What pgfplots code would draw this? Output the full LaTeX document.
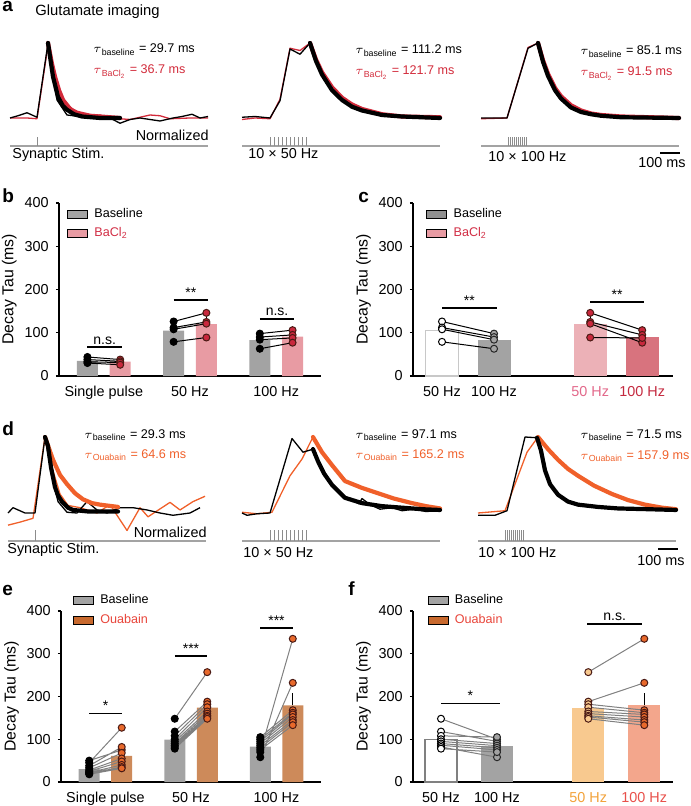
\documentclass[border=0pt]{standalone}
\usepackage{fontspec}
\setmainfont{Liberation Sans}
\usepackage{pgfplots}
\pgfplotsset{compat=1.18}

\definecolor{basegray}{HTML}{A3A3A3}
\definecolor{leggray}{HTML}{8F8F8F}
\definecolor{opengray}{HTML}{C8C8C8}
\definecolor{bacltxt}{HTML}{D12E45}
\definecolor{baclbar}{HTML}{E89BA3}
\definecolor{bacldot}{HTML}{C9283D}
\definecolor{bacllight}{HTML}{ECB1B7}
\definecolor{bacldark}{HTML}{D8737E}
\definecolor{dotedge}{HTML}{4A1A14}
\definecolor{cfifty}{HTML}{E2688A}
\definecolor{chundred}{HTML}{C42A40}
\definecolor{ouabbar}{HTML}{CD8A5A}
\definecolor{ouableg}{HTML}{C8692E}
\definecolor{ouabtxt}{HTML}{E8453A}
\definecolor{ouabdot}{HTML}{E8692B}
\definecolor{ouablight}{HTML}{F8C98F}
\definecolor{ouabsalmon}{HTML}{F3A68C}
\definecolor{ffifty}{HTML}{F2A23A}
\definecolor{fhundred}{HTML}{E8504A}
\definecolor{tracered}{HTML}{D22A3A}
\definecolor{traceorange}{HTML}{F0602A}
\definecolor{stimgray}{HTML}{8C8C8C}
\definecolor{pairgray}{HTML}{808080}

\newcommand{\tickfont}{\fontsize{7.2}{8.6}\selectfont}
\newcommand{\labfont}{\fontsize{7.9}{9.4}\selectfont}
\newcommand{\legfont}{\fontsize{6.3}{7.5}\selectfont}
\newcommand{\taufont}{\fontsize{6.3}{7.5}\selectfont}
\newcommand{\sigfont}{\fontsize{7}{8.4}\selectfont}
\newcommand{\letfont}{\fontsize{9.5}{11}\selectfont\bfseries}

\tikzset{sig/.style={line width=0.8pt},
  tau/.style={anchor=base west, font=\taufont, inner sep=0pt}}

\pgfplotsset{
  trace/.style={scale only axis, anchor=north west, width=99pt, xmin=0, xmax=990,
    ymin=-0.55, ymax=1.1, hide axis, clip=false},
  raw/.style={no markers, line width=0.65pt, line join=round},
  fit/.style={no markers, line width=2.1pt, line join=round, line cap=round},
  stimline/.style={no markers, line width=0.6pt, color=stimgray!80},
  stimtick/.style={no markers, line width=0.5pt, color=stimgray, unbounded coords=jump},
  decay/.style={scale only axis, anchor=south west, clip=false,
    axis lines=left, axis line style={line width=0.9pt, -},
    ymin=0, ymax=400, ytick={0,100,200,300,400},
    tick align=outside, major tick length=1.6pt,
    ytick style={line width=0.7pt, black}, xtick style={draw=none},
    ticklabel style={font=\tickfont},
    /pgf/number format/assume math mode=true,
    ylabel={Decay Tau (ms)},
    ylabel style={font=\labfont, at={(axis description cs:-0.19,0.5)}, anchor=center},
    legend style={draw=none, fill=none, anchor=north west, font=\legfont,
      inner sep=0pt, row sep=1pt, column sep=1.8pt, nodes={inner sep=1.4pt}},
    legend cell align=left,
    legend image code/.code={\fill[##1] (0pt,-2pt) rectangle (10pt,2pt);},
  },
  bars/.style={ybar, bar shift=0pt, draw=none, forget plot,
    error bars/y dir=plus, error bars/y explicit,
    error bars/error bar style={line width=0.6pt, black},
    error bars/error mark options={line width=0.6pt, black, mark size=2.2pt}},
  pairs/.style={forget plot, line width=0.5pt, unbounded coords=jump, scatter,
    scatter src=explicit symbolic, mark size=1.75pt,
    scatter/classes={
      k={mark=*, draw=black, fill=black},
      r={mark=*, draw=dotedge, fill=bacldot},
      o={mark=*, draw=black, fill=white},
      g={mark=*, draw=black!85, fill=basegray},
      u={mark=*, draw=dotedge, fill=ouabdot},
      l={mark=*, draw=dotedge, fill=ouablight}}},
}

\begin{document}
\begin{tikzpicture}[x=0.5pt, y=-0.5pt]
\useasboundingbox (0,0) rectangle (690,806);

% ---------------- panel a ----------------
\node[anchor=base west, font=\letfont, inner sep=0pt] at (2,12) {a};
\node[anchor=base west, font=\fontsize{7.4}{9}\selectfont, inner sep=0pt] at (35,16) {Glutamate imaging};

\begin{axis}[trace, height=61.875pt, at={(5pt,-17.75pt)}]
\addplot[stimline] coordinates {(0,-0.373) (990,-0.373)};
\addplot[stimtick] coordinates {(135,-0.373) (135,-0.253)};
\addplot[raw, tracered] coordinates {(0,0) (85,0.0) (135,-0.01) (190,0.97) (250,0.3) (325,0.08) (400,0.02) (450,0.04) (500,0.0) (600,-0.02) (700,0.04) (750,0.03) (800,-0.01) (900,0.0) (990,0.0)};
\addplot[raw, black] coordinates {(0,0) (40,0.03) (85,0.07) (135,0.01) (190,1) (235,0.24) (285,0.04) (350,0.02) (385,0.05) (450,0.01) (500,0.0) (550,-0.07) (600,-0.02) (650,0.0) (750,-0.04) (815,0.0) (860,0.02) (910,0.05) (950,0.0) (990,0.02)};
\addplot[fit, tracered] coordinates {(190,1) (210,0.72) (225,0.55) (245,0.37) (265,0.24) (300,0.12) (335,0.07) (400,0.03) (550,0.0)};
\addplot[fit, black] coordinates {(190,1) (215,0.55) (240,0.28) (265,0.16) (285,0.11) (320,0.05) (360,0.02) (450,0.0) (550,0.0)};
\end{axis}

\begin{axis}[trace, height=61.875pt, at={(121pt,-17.75pt)}]
\addplot[stimline] coordinates {(0,-0.373) (990,-0.373)};
\addplot[stimtick] coordinates {(140,-0.373) (140,-0.253) (nan,nan) (160,-0.373) (160,-0.253) (nan,nan) (180,-0.373) (180,-0.253) (nan,nan) (200,-0.373) (200,-0.253) (nan,nan) (220,-0.373) (220,-0.253) (nan,nan) (240,-0.373) (240,-0.253) (nan,nan) (260,-0.373) (260,-0.253) (nan,nan) (280,-0.373) (280,-0.253) (nan,nan) (300,-0.373) (300,-0.253) (nan,nan) (320,-0.373) (320,-0.253)};
\addplot[raw, tracered] coordinates {(0,-0.02) (65,0.0) (140,-0.01) (190,0.25) (240,0.93) (290,0.9) (340,1.0)};
\addplot[raw, black] coordinates {(0,0.01) (65,0.02) (140,0.0) (190,0.23) (240,0.92) (290,0.85) (340,1.0)};
\addplot[fit, tracered] coordinates {(340,1) (370,0.78) (400,0.61) (450,0.41) (500,0.27) (550,0.18) (600,0.12) (700,0.05) (800,0.02) (990,0.01)};
\addplot[fit, black] coordinates {(340,1) (370,0.76) (400,0.58) (450,0.37) (500,0.24) (550,0.15) (600,0.1) (700,0.04) (800,0.02) (990,0.0)};
\end{axis}

\begin{axis}[trace, height=61.875pt, at={(240.5pt,-17.75pt)}]
\addplot[stimline] coordinates {(0,-0.373) (990,-0.373)};
\addplot[stimtick] coordinates {(135,-0.373) (135,-0.253) (nan,nan) (145,-0.373) (145,-0.253) (nan,nan) (155,-0.373) (155,-0.253) (nan,nan) (165,-0.373) (165,-0.253) (nan,nan) (175,-0.373) (175,-0.253) (nan,nan) (185,-0.373) (185,-0.253) (nan,nan) (195,-0.373) (195,-0.253) (nan,nan) (205,-0.373) (205,-0.253) (nan,nan) (215,-0.373) (215,-0.253) (nan,nan) (225,-0.373) (225,-0.253)};
\addplot[raw, tracered] coordinates {(0,-0.01) (130,0.0) (235,0.94) (285,1.0)};
\addplot[raw, black] coordinates {(0,0) (130,0) (235,0.93) (285,1.0)};
\addplot[fit, tracered] coordinates {(285,1) (310,0.77) (335,0.59) (370,0.4) (400,0.29) (450,0.17) (500,0.1) (550,0.06) (600,0.04) (700,0.02) (990,0.0)};
\addplot[fit, black] coordinates {(285,1) (310,0.75) (335,0.56) (370,0.37) (400,0.26) (450,0.14) (500,0.08) (550,0.05) (600,0.03) (700,0.01) (990,0)};
\end{axis}

\node[tau] at (93,53) {$\tau$\textsubscript{baseline} = 29.7 ms};
\node[tau, text=tracered] at (93,74) {$\tau$\textsubscript{BaCl\textsubscript{2}} = 36.7 ms};
\node[tau] at (355,54) {$\tau$\textsubscript{baseline} = 111.2 ms};
\node[tau, text=tracered] at (355,75) {$\tau$\textsubscript{BaCl\textsubscript{2}} = 121.7 ms};
\node[tau] at (580,55) {$\tau$\textsubscript{baseline} = 85.1 ms};
\node[tau, text=tracered] at (580,76) {$\tau$\textsubscript{BaCl\textsubscript{2}} = 91.5 ms};
\node[anchor=base east, font=\tickfont, inner sep=0pt] at (209,141) {Normalized};
\node[anchor=base west, font=\tickfont, inner sep=0pt] at (12,159) {Synaptic Stim.};
\node[anchor=base west, font=\tickfont, inner sep=0pt] at (248,159) {10 × 50 Hz};
\node[anchor=base west, font=\tickfont, inner sep=0pt] at (488,162) {10 × 100 Hz};
\draw[line width=1pt] (660,153) -- (680,153);
\node[anchor=base east, font=\tickfont, inner sep=0pt] at (686,168) {100 ms};

% ---------------- panel b ----------------
\node[anchor=base west, font=\letfont, inner sep=0pt] at (2,203) {b};
\begin{axis}[decay, at={(29.5pt,-188pt)}, width=131pt, height=86.5pt,
  xmin=0.48, xmax=3.52, xtick={1,2,3}, xticklabels={Single pulse, 50 Hz, 100 Hz},
  legend style={at={(rel axis cs:0.03,0.99)}}]
\addlegendimage{fill=basegray}
\addlegendimage{fill=baclbar}
\addplot[bars, bar width=10.5pt, fill=basegray] coordinates {(0.81,35) +- (0,4) (1.81,105) +- (0,10) (2.81,83) +- (0,6)};
\addplot[bars, bar width=10.5pt, fill=baclbar] coordinates {(1.19,33) +- (0,3) (2.19,120) +- (0,12) (3.19,91) +- (0,5)};
\addplot[pairs, black] coordinates {
 (0.81,44) [k] (1.19,38) [r] (1,nan) [k]
 (0.81,38) [k] (1.19,34) [r] (1,nan) [k]
 (0.81,33) [k] (1.19,31) [r] (1,nan) [k]
 (0.81,30) [k] (1.19,26) [r] (1,nan) [k]
 (1.81,126) [k] (2.19,146) [r] (2,nan) [k]
 (1.81,112) [k] (2.19,125) [r] (2,nan) [k]
 (1.81,108) [k] (2.19,121) [r] (2,nan) [k]
 (1.81,79) [k] (2.19,89) [r] (2,nan) [k]
 (2.81,98) [k] (3.19,106) [r] (3,nan) [k]
 (2.81,90) [k] (3.19,95) [r] (3,nan) [k]
 (2.81,84) [k] (3.19,88) [r] (3,nan) [k]
 (2.81,63) [k] (3.19,77) [r]};
\draw[sig] (axis cs:0.81,67) -- (axis cs:1.21,67) node[midway, above=1pt, font=\sigfont, inner sep=0pt] {n.s.};
\draw[sig] (axis cs:1.81,176) -- (axis cs:2.21,176) node[midway, above=1pt, font=\sigfont, inner sep=0pt] {**};
\draw[sig] (axis cs:2.81,132) -- (axis cs:3.21,132) node[midway, above=1pt, font=\sigfont, inner sep=0pt] {n.s.};
\legend{Baseline, \textcolor{bacltxt}{BaCl\textsubscript{2}}}
\end{axis}

% ---------------- panel c ----------------
\node[anchor=base west, font=\letfont, inner sep=0pt] at (358,203) {c};
\begin{axis}[decay, at={(206.5pt,-188pt)}, width=130pt, height=86.5pt,
  xmin=0.442, xmax=5.442, xtick={1,2,3.85,4.85},
  xticklabels={50 Hz, 100 Hz, \textcolor{cfifty}{50 Hz}, \textcolor{chundred}{100 Hz}},
  legend style={at={(rel axis cs:0.05,0.99)}}]
\addlegendimage{fill=leggray}
\addlegendimage{fill=baclbar}
\addplot[bars, bar width=16.5pt, fill=white, draw=opengray, line width=0.6pt] coordinates {(1,106) +- (0,8)};
\addplot[bars, bar width=16.5pt, fill=basegray] coordinates {(2,84) +- (0,4)};
\addplot[bars, bar width=16.5pt, fill=bacllight] coordinates {(3.85,120) +- (0,12)};
\addplot[bars, bar width=16.5pt, fill=bacldark] coordinates {(4.85,91) +- (0,4)};
\addplot[pairs, black] coordinates {
 (1,126) [o] (2,98) [g] (1.5,nan) [o]
 (1,112) [o] (2,90) [g] (1.5,nan) [o]
 (1,108) [o] (2,84) [g] (1.5,nan) [o]
 (1,79) [o] (2,63) [g] (1.5,nan) [o]
 (3.85,146) [r] (4.85,106) [r] (4,nan) [r]
 (3.85,125) [r] (4.85,95) [r] (4,nan) [r]
 (3.85,121) [r] (4.85,77) [r] (4,nan) [r]
 (3.85,89) [r] (4.85,88) [r]};
\draw[sig] (axis cs:1,157) -- (axis cs:2.05,157) node[midway, above=1pt, font=\sigfont, inner sep=0pt] {**};
\draw[sig] (axis cs:3.85,171) -- (axis cs:4.88,171) node[midway, above=1pt, font=\sigfont, inner sep=0pt] {**};
\legend{Baseline, \textcolor{bacltxt}{BaCl\textsubscript{2}}}
\end{axis}

% ---------------- panel d ----------------
\node[anchor=base west, font=\letfont, inner sep=0pt] at (2,435) {d};

\begin{axis}[trace, height=62.7pt, at={(4pt,-214.7pt)}]
\addplot[stimline] coordinates {(0,-0.368) (990,-0.368)};
\addplot[stimtick] coordinates {(135,-0.368) (135,-0.224)};
\addplot[raw, traceorange] coordinates {(0,-0.16) (60,-0.12) (125,-0.07) (185,1.0) (220,0.6) (260,0.25) (300,0.1) (360,0.07) (445,0.0) (510,0.11) (595,-0.23) (660,0.07) (700,-0.05) (810,0.14) (860,0.04) (925,0.15) (985,0.22)};
\addplot[raw, black] coordinates {(0,0) (25,0.07) (85,0) (135,0) (185,1.0) (220,0.48) (250,0.15) (295,0.01) (345,0.0) (395,0.15) (445,0.04) (495,0) (560,0.07) (625,0.07) (695,0.04) (760,0) (825,-0.03) (910,0) (960,0.07)};
\addplot[fit, traceorange] coordinates {(185,1) (225,0.7) (260,0.5) (295,0.38) (335,0.26) (375,0.18) (420,0.13) (460,0.11) (550,0.08)};
\addplot[fit, black] coordinates {(185,1) (200,0.88) (215,0.6) (235,0.34) (250,0.23) (270,0.15) (300,0.07) (325,0.04) (400,0.02) (550,0.02)};
\end{axis}

\begin{axis}[trace, height=62.7pt, at={(121pt,-214.7pt)}]
\addplot[stimline] coordinates {(0,-0.368) (990,-0.368)};
\addplot[stimtick] coordinates {(140,-0.368) (140,-0.224) (nan,nan) (160,-0.368) (160,-0.224) (nan,nan) (180,-0.368) (180,-0.224) (nan,nan) (200,-0.368) (200,-0.224) (nan,nan) (220,-0.368) (220,-0.224) (nan,nan) (240,-0.368) (240,-0.224) (nan,nan) (260,-0.368) (260,-0.224) (nan,nan) (280,-0.368) (280,-0.224) (nan,nan) (300,-0.368) (300,-0.224) (nan,nan) (320,-0.368) (320,-0.224)};
\addplot[raw, traceorange] coordinates {(0,0.01) (75,-0.01) (150,0.01) (240,0.49) (300,0.71) (355,1.0)};
\addplot[raw, black] coordinates {(0,0.0) (25,-0.03) (75,-0.01) (140,0.0) (250,0.98) (305,0.8) (355,0.84) (400,0.6) (450,0.36) (500,0.22) (560,0.17) (585,0.12) (600,0.19) (640,0.11) (690,0.05) (750,0.07) (800,0.03) (860,0.05) (920,0.02) (990,0.03)};
\addplot[fit, traceorange] coordinates {(355,1) (400,0.8) (450,0.63) (515,0.42) (600,0.33) (680,0.26) (760,0.19) (850,0.13) (920,0.09) (990,0.06)};
\addplot[fit, black] coordinates {(355,0.84) (380,0.68) (410,0.52) (450,0.37) (515,0.2) (600,0.13) (700,0.09) (800,0.07) (900,0.05) (990,0.04)};
\end{axis}

\begin{axis}[trace, height=62.7pt, at={(239pt,-214.7pt)}]
\addplot[stimline] coordinates {(0,-0.368) (990,-0.368)};
\addplot[stimtick] coordinates {(135,-0.368) (135,-0.224) (nan,nan) (145,-0.368) (145,-0.224) (nan,nan) (155,-0.368) (155,-0.224) (nan,nan) (165,-0.368) (165,-0.224) (nan,nan) (175,-0.368) (175,-0.224) (nan,nan) (185,-0.368) (185,-0.224) (nan,nan) (195,-0.368) (195,-0.224) (nan,nan) (205,-0.368) (205,-0.224) (nan,nan) (215,-0.368) (215,-0.224) (nan,nan) (225,-0.368) (225,-0.224)};
\addplot[raw, traceorange] coordinates {(0,0.0) (135,0.03) (245,0.8) (300,1.0)};
\addplot[raw, black] coordinates {(0,-0.03) (85,-0.03) (145,0.03) (235,1.0) (295,0.99)};
\addplot[fit, traceorange] coordinates {(300,1) (350,0.84) (400,0.7) (450,0.58) (500,0.49) (580,0.36) (670,0.25) (750,0.17) (835,0.11) (920,0.07) (990,0.05)};
\addplot[fit, black] coordinates {(295,0.99) (315,0.82) (335,0.56) (360,0.38) (400,0.24) (450,0.15) (500,0.11) (600,0.08) (700,0.06) (850,0.05) (990,0.04)};
\end{axis}

\node[tau] at (84,438) {$\tau$\textsubscript{baseline} = 29.3 ms};
\node[tau, text=traceorange] at (84,458) {$\tau$\textsubscript{Ouabain} = 64.6 ms};
\node[tau] at (355,438) {$\tau$\textsubscript{baseline} = 97.1 ms};
\node[tau, text=traceorange] at (355,458) {$\tau$\textsubscript{Ouabain} = 165.2 ms};
\node[tau] at (580,438) {$\tau$\textsubscript{baseline} = 71.5 ms};
\node[tau, text=traceorange] at (580,459) {$\tau$\textsubscript{Ouabain} = 157.9 ms};
\node[anchor=base east, font=\tickfont, inner sep=0pt] at (207,537) {Normalized};
\node[anchor=base west, font=\tickfont, inner sep=0pt] at (7,553) {Synaptic Stim.};
\node[anchor=base west, font=\tickfont, inner sep=0pt] at (243,557) {10 × 50 Hz};
\node[anchor=base west, font=\tickfont, inner sep=0pt] at (478,557) {10 × 100 Hz};
\draw[line width=1pt] (658,549) -- (678,549);
\node[anchor=base east, font=\tickfont, inner sep=0pt] at (685,565) {100 ms};

% ---------------- panel e ----------------
\node[anchor=base west, font=\letfont, inner sep=0pt] at (2,595) {e};
\begin{axis}[decay, at={(30.5pt,-391pt)}, width=130pt, height=85.5pt,
  xmin=0.48, xmax=3.52, xtick={1,2,3}, xticklabels={Single pulse, 50 Hz, 100 Hz},
  legend style={at={(rel axis cs:0.045,1.115)}}]
\addlegendimage{fill=basegray}
\addlegendimage{fill=ouableg}
\addplot[bars, bar width=10.5pt, fill=basegray] coordinates {(0.81,30) +- (0,4) (1.81,99) +- (0,7) (2.81,83) +- (0,5)};
\addplot[bars, bar width=10.5pt, fill=ouabbar] coordinates {(1.19,61) +- (0,10) (2.19,174) +- (0,10) (3.19,179) +- (0,18)};
\addplot[pairs, pairgray] coordinates {
 (0.81,50) [k] (1.19,75) [u] (1,nan) [k]
 (0.81,45) [k] (1.19,127) [u] (1,nan) [k]
 (0.81,38) [k] (1.19,82) [u] (1,nan) [k]
 (0.81,33) [k] (1.19,68) [u] (1,nan) [k]
 (0.81,28) [k] (1.19,55) [u] (1,nan) [k]
 (0.81,25) [k] (1.19,48) [u] (1,nan) [k]
 (0.81,22) [k] (1.19,40) [u] (1,nan) [k]
 (0.81,20) [k] (1.19,35) [u] (1,nan) [k]
 (0.81,18) [k] (1.19,32) [u] (1,nan) [k]
 (1.81,148) [k] (2.19,257) [u] (2,nan) [k]
 (1.81,118) [k] (2.19,188) [u] (2,nan) [k]
 (1.81,108) [k] (2.19,182) [u] (2,nan) [k]
 (1.81,100) [k] (2.19,175) [u] (2,nan) [k]
 (1.81,95) [k] (2.19,165) [u] (2,nan) [k]
 (1.81,90) [k] (2.19,160) [u] (2,nan) [k]
 (1.81,86) [k] (2.19,155) [u] (2,nan) [k]
 (1.81,82) [k] (2.19,152) [u] (2,nan) [k]
 (1.81,78) [k] (2.19,148) [u] (2,nan) [k]
 (2.81,70) [k] (3.19,335) [u] (3,nan) [k]
 (2.81,58) [k] (3.19,232) [u] (3,nan) [k]
 (2.81,105) [k] (3.19,168) [u] (3,nan) [k]
 (2.81,100) [k] (3.19,162) [u] (3,nan) [k]
 (2.81,95) [k] (3.19,158) [u] (3,nan) [k]
 (2.81,90) [k] (3.19,152) [u] (3,nan) [k]
 (2.81,85) [k] (3.19,145) [u] (3,nan) [k]
 (2.81,80) [k] (3.19,140) [u] (3,nan) [k]
 (2.81,75) [k] (3.19,133) [u]};
\draw[sig] (axis cs:0.81,160) -- (axis cs:1.19,160) node[midway, above=1pt, font=\sigfont, inner sep=0pt] {*};
\draw[sig] (axis cs:1.81,295) -- (axis cs:2.19,295) node[midway, above=1pt, font=\sigfont, inner sep=0pt] {***};
\draw[sig] (axis cs:2.81,360) -- (axis cs:3.19,360) node[midway, above=1pt, font=\sigfont, inner sep=0pt] {***};
\legend{Baseline, \textcolor{ouabtxt}{Ouabain}}
\end{axis}

% ---------------- panel f ----------------
\node[anchor=base west, font=\letfont, inner sep=0pt] at (348,595) {f};
\begin{axis}[decay, at={(206.5pt,-391pt)}, width=130pt, height=85.5pt,
  xmin=0.5, xmax=5.143, xtick={1,2,3.63,4.63},
  xticklabels={50 Hz, 100 Hz, \textcolor{ffifty}{50 Hz}, \textcolor{fhundred}{100 Hz}},
  legend style={at={(rel axis cs:0.055,1.115)}}]
\addlegendimage{fill=basegray}
\addlegendimage{fill=ouableg}
\addplot[bars, bar width=16pt, fill=white, draw=pairgray, line width=0.6pt] coordinates {(1,100) +- (0,7)};
\addplot[bars, bar width=16pt, fill=basegray] coordinates {(2,84) +- (0,5)};
\addplot[bars, bar width=16pt, fill=ouablight] coordinates {(3.63,174) +- (0,10)};
\addplot[bars, bar width=16pt, fill=ouabsalmon] coordinates {(4.63,179) +- (0,18)};
\addplot[pairs, pairgray] coordinates {
 (1,148) [o] (2,100) [g] (1.5,nan) [o]
 (1,118) [o] (2,95) [g] (1.5,nan) [o]
 (1,108) [o] (2,105) [g] (1.5,nan) [o]
 (1,100) [o] (2,90) [g] (1.5,nan) [o]
 (1,95) [o] (2,85) [g] (1.5,nan) [o]
 (1,90) [o] (2,80) [g] (1.5,nan) [o]
 (1,86) [o] (2,75) [g] (1.5,nan) [o]
 (1,82) [o] (2,58) [g] (1.5,nan) [o]
 (1,78) [o] (2,70) [g] (1.5,nan) [o]
 (3.63,257) [l] (4.63,335) [u] (4,nan) [l]
 (3.63,188) [l] (4.63,232) [u] (4,nan) [l]
 (3.63,182) [l] (4.63,168) [u] (4,nan) [l]
 (3.63,175) [l] (4.63,162) [u] (4,nan) [l]
 (3.63,165) [l] (4.63,158) [u] (4,nan) [l]
 (3.63,160) [l] (4.63,152) [u] (4,nan) [l]
 (3.63,155) [l] (4.63,145) [u] (4,nan) [l]
 (3.63,152) [l] (4.63,140) [u] (4,nan) [l]
 (3.63,148) [l] (4.63,133) [u]};
\draw[sig] (axis cs:1,184) -- (axis cs:2.05,184) node[midway, above=1pt, font=\sigfont, inner sep=0pt] {*};
\draw[sig] (axis cs:3.61,370) -- (axis cs:4.59,370) node[midway, above=1pt, font=\sigfont, inner sep=0pt] {n.s.};
\legend{Baseline, \textcolor{ouabtxt}{Ouabain}}
\end{axis}
\end{tikzpicture}
\end{document}
